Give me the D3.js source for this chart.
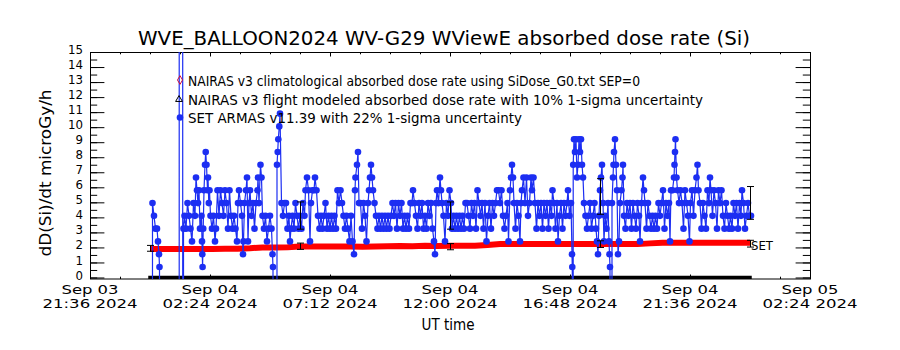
<!DOCTYPE html>
<html>
<head>
<meta charset="utf-8">
<script src="https://cdn.jsdelivr.net/npm/d3@7"></script>
<style>
  html, body { margin: 0; padding: 0; background: #fff; }
  svg { display: block; font-family: "DejaVu Sans", sans-serif; }
</style>
</head>
<body>
<svg id="chart" width="900" height="350"></svg>
<script>
// ---- text ----
const titleText = "WVE_BALLOON2024 WV-G29 WViewE absorbed dose rate (Si)";
const yLabelText = "dD(Si)/dt microGy/h";
const xLabelText = "UT time";
const legendLabels = [
  "NAIRAS v3 climatological absorbed dose rate using SiDose_G0.txt SEP=0",
  "NAIRAS v3 flight modeled absorbed dose rate with 10% 1-sigma uncertainty",
  "SET ARMAS v11.39 with 22% 1-sigma uncertainty"
];

// ---- axes ----
const xStart = "2024-09-03T21:36:00Z";
const xEnd = "2024-09-05T02:24:00Z";
const xMajorTicks = ["2024-09-03T21:36:00Z", "2024-09-04T02:24:00Z", "2024-09-04T07:12:00Z",
  "2024-09-04T12:00:00Z", "2024-09-04T16:48:00Z", "2024-09-04T21:36:00Z", "2024-09-05T02:24:00Z"];
const yTicks = [0, 1, 2, 3, 4, 5, 6, 7, 8, 9, 10, 11, 12, 13, 14, 15];
const flightStart = "2024-09-04T00:00:00Z";

// ---- NAIRAS climatological [hours after flightStart, microGy/h] ----
const nairasClim = [[0,1.90],[0.5,1.90],[1,1.90],[1.5,1.90],[2,1.90],[2.5,1.90],[3,1.91],[3.5,1.92],
  [4,1.95],[4.5,2.00],[5,2.00],[5.5,2.01],[6,2.06],[6.5,2.06],[7,2.06],[7.5,2.06],[8,2.06],[8.5,2.05],
  [9,2.06],[9.5,2.08],[10,2.10],[10.5,2.08],[11,2.11],[11.5,2.09],[12,2.11],[12.5,2.11],[13,2.11],
  [13.5,2.16],[14,2.22],[14.5,2.22],[15,2.22],[15.5,2.22],[16,2.22],[16.5,2.22],[17,2.22],[17.5,2.22],
  [18,2.22],[18.5,2.22],[19,2.22],[19.5,2.22],[20,2.27],[20.5,2.31],[21,2.31],[21.5,2.31],[22,2.31],
  [22.5,2.31],[23,2.31],[23.5,2.31],[24,2.31]];

// ---- NAIRAS flight modeled [hours, microGy/h] ----
const nairasFlight = [[0,0],[2,0],[4,0],[6,0],[8,0],[10,0],[12,0],[14,0],[16,0],[18,0],[20,0],[22,0],[24,0]];
const nairasErrHours = [0, 6, 12, 18, 24];
const nairasErrDose = [1.94, 2.08, 2.05, 2.22, 2.25];
const nairasErrFrac = 0.10;

// ---- SET ARMAS [minutes after flightStart, microGy/h]; -999 fill, 999 saturated ----
const setArmas = [[0,-999],[6,4.95],[9.6,4.1],[13.2,3.25],[16.8,3.25],[19.2,2.4],[21.6,1.55],[22.8,0.7],[24,-999],
[69.6,-999],[70.6,999],[78,999],[79,-999],[80.4,3.25],
[82.8,4.1],[86.4,3.25],[90,4.95],[93.6,4.1],[97.2,3.25],[100.8,2.4],[104.4,4.95],[108,4.1],[110.4,6.65],[112.8,5.8],[115.2,4.95],[117.6,5.8],[120,3.25],[123.6,4.1],[124.8,2.4],[125.5,1.55],[126.2,0.7],[127.7,3.25],[129.6,5.8],[132,7.5],[133.7,8.35],[135.6,7.5],[138,5.8],[139.2,6.65],[141.1,4.95],[142.8,5.8],[145.2,4.1],[148.8,3.25],[152.4,4.1],[156,2.4],[158.4,3.25],[162,5.8],[165.6,4.1],[169.2,5.8],[172.8,4.95],[176.4,4.1],[180,5.8],[183.6,4.95],[187.2,3.25],[190.8,5.8],[194.4,4.1],[198,3.25],[201.6,4.1],[205.2,3.25],[208.8,2.4],[211.2,4.95],[213.6,5.8],[217.2,4.95],[220.8,4.1],[223.2,1.55],[224.4,2.4],[226.8,4.95],[230.4,5.8],[232.8,6.65],[235.2,2.4],[237.6,4.95],[240,5.8],[243.6,4.1],[247.2,4.95],[250.8,3.25],[254.4,4.95],[258,5.8],[259.2,6.65],[261.6,4.95],[265.2,7.5],[267.6,6.65],[270,4.1],[273.6,3.25],[277.2,4.1],[280.8,2.4],[284.4,3.25],[288,4.1],[291.6,3.25],[294,1.55],[295.2,0.7],[297.1,-999],[302.4,-999],[304.8,7.5],[306.5,8.35],[307.9,9.2],[310.3,10.05],[312,10.9],[315.6,4.95],
[319.2,4.1],[322.8,4.95],[326.4,4.95],[330,3.25],[333.6,4.1],[336,2.4],[338.4,3.25],[342,4.1],[345.6,3.25],[349.2,4.95],[352.8,4.1],[356.4,3.25],[360,4.1],[363.6,3.25],[367.2,4.95],[370.8,4.1],[373.2,5.8],[376.8,6.65],[380.4,5.8],[384,2.4],[386.4,4.95],[390,5.8],[393.6,5.8],[396,6.65],[399.6,5.8],[403.2,4.1],[406.8,3.25],[410.4,4.1],[414,3.25],[417.6,4.1],[421.2,4.95],[424.8,3.25],[428.4,4.1],[432,3.25],[435.6,4.1],[439.2,3.25],[442.8,4.1],[446.4,3.25],[450,5.8],[453.6,4.95],[457.2,5.8],[460.8,4.95],[464.4,4.1],[468,3.25],[471.6,4.1],[475.2,3.25],[478.8,2.4],[482.4,4.1],[486,2.4],[489.6,1.55],[492,5.8],[493.2,6.65],[496.8,7.5],[499.2,8.35],[501.6,4.95],[505.2,4.95],[508.8,3.25],[512.4,4.95],[516,4.1],[519.6,2.4],[523.2,4.95],[525.6,5.8],[528,6.65],[530.4,7.5],[532.8,6.65],[535.2,5.8],[538.8,4.95],[542.4,4.1],[546,3.25],[549.6,4.1],[553.2,3.25],[556.8,4.1],[560.4,3.25],[564,4.1],[567.6,3.25],[571.2,4.1],[574.8,3.25],[578.4,4.1],[582,4.95],[585.6,4.1],[589.2,4.95],[592.8,3.25],[596.4,4.95],[600,4.1],[603.6,4.95],[607.2,3.25],[610.8,4.1],[614.4,3.25],[618,4.1],[621.6,3.25],[625.2,4.95],[628.8,4.95],[631.2,5.8],[634.8,4.95],[638.4,4.1],[642,3.25],[645.6,4.95],[649.2,4.1],[652.8,4.95],[656.4,3.25],[660,4.1],[663.6,3.25],[667.2,4.95],[670.8,4.1],[674.4,4.95],[678,3.25],[681.6,2.4],[684,1.55],[686.4,4.95],[688.8,5.8],[692.4,4.95],[696,6.65],[698.4,5.8],[700.8,4.95],[704.4,4.1],[708,2.4],[711.6,4.95],[715.2,4.1],[718.8,5.8],[722.4,4.95],[724.8,3.25],[728.4,4.1],[732,3.25],[735.6,4.1],[739.2,3.25],[742.8,4.1],[746.4,3.25],[750,4.1],[753.6,3.25],[757.2,4.95],[760.8,4.95],[764.4,4.1],[768,3.25],[771.6,4.95],[775.2,4.1],[778.8,4.95],[782.4,3.25],[786,5.8],[789.6,4.95],[793.2,4.1],[796.8,4.95],[800.4,3.25],[804,4.95],[807.6,2.4],[811.2,4.1],[814.8,4.95],[818.4,3.25],[822,4.95],[825.6,4.1],[829.2,4.95],[832.8,5.8],[836.4,5.8],[840,4.95],[843.6,5.8],[847.2,4.1],[850.8,3.25],[854.4,4.1],[858,4.95],[860.4,2.4],[864,5.8],[866.4,6.65],[868.8,7.5],[871.2,6.65],[873.6,4.95],[877.2,3.25],[880.8,4.95],[884.4,4.1],[888,2.4],[890.4,4.95],[892.8,5.8],[896.4,6.65],[900,4.95],[903.6,6.65],[907.2,4.1],[910.8,4.95],[914.4,6.65],[916.8,5.8],[920.4,6.65],[924,4.95],[927.6,3.25],[931.2,4.95],[934.8,4.1],[938.4,4.95],[942,3.25],[945.6,4.95],[949.2,4.1],[952.8,4.95],[956.4,3.25],[960,4.95],[963.6,4.1],[966,5.8],[969.6,4.95],[973.2,3.25],[976.8,4.95],[979.2,2.4],[982.8,4.1],[986.4,4.95],[990,3.25],[993.6,4.95],[997.2,4.1],[1000.8,4.95],[1003.2,5.8],[1006.8,4.1],[1010.4,4.95],[1012.8,1.55],[1013.5,0.7],[1014.2,-999],[1015.7,7.5],[1017.6,9.2],[1020,8.35],[1022.4,9.2],[1024.8,6.65],[1027.2,7.5],[1029.6,9.2],[1032,8.35],[1034.4,9.2],[1036.8,7.5],[1039.2,6.65],
[1041.6,4.95],[1045.2,4.1],[1048.8,3.25],[1052.4,4.1],[1056,4.95],[1059.6,3.25],[1063.2,4.1],[1066.8,4.95],[1070.4,3.25],[1072.8,2.4],[1075.2,1.55],[1077.6,4.1],[1080,5.8],[1082.4,6.65],[1084.8,7.5],[1087.2,4.95],[1089.6,2.4],[1092,4.1],[1095.6,3.25],[1099.2,4.95],[1101.6,2.4],[1102.8,1.55],[1104,0.7],[1105.2,-999],[1108.8,4.95],[1111.2,6.65],[1112.4,7.5],[1113.6,8.35],[1116,9.2],[1118.4,7.5],[1120.8,5.8],[1123.2,1.55],[1125.6,2.4],[1128,4.95],[1131.6,5.8],[1134,6.65],[1135.2,7.5],[1137.6,4.1],[1141.2,3.25],[1144.8,4.95],[1148.4,4.1],[1152,4.95],[1155.6,3.25],[1159.2,4.95],[1162.8,4.1],[1166.4,3.25],[1170,4.95],[1173.6,4.1],[1176,2.4],[1179.6,4.95],[1183.2,6.65],[1185.6,5.8],[1188,4.95],[1191.6,3.25],[1195.2,4.95],[1198.8,4.1],[1202.4,3.25],[1206,4.1],[1209.6,3.25],[1213.2,4.1],[1216.8,3.25],[1220.4,4.95],[1224,4.1],[1227.6,4.95],[1231.2,5.8],[1234.8,3.25],[1238.4,4.95],[1242,4.1],[1245.6,4.95],[1248,2.4],[1250.4,5.8],[1254,5.8],[1257.6,6.65],[1258.8,7.5],[1260,8.35],[1261.2,9.2],[1263.6,6.65],[1266,5.8],[1269.6,4.95],[1273.2,5.8],[1276.8,4.95],[1280.4,3.25],[1284,5.8],[1287.6,4.95],[1291.2,4.1],[1294.8,2.4],[1297.2,4.95],[1300.8,5.8],[1304.4,4.1],[1308,5.8],[1311.6,6.65],[1314,7.5],[1316.4,5.8],[1320,4.95],[1323.6,3.25],[1327.2,4.95],[1330.8,4.1],[1334.4,3.25],[1338,5.8],[1341.6,4.95],[1344,6.65],[1346.4,5.8],[1350,4.1],[1353.6,5.8],[1357.2,4.95],[1360.8,3.25],[1364.4,5.8],[1368,4.95],[1371.6,5.8],[1375.2,4.1],[1378.8,3.25],[1382.4,4.95],[1386,4.1],[1389.6,3.25],[1393.2,4.1],[1396.8,3.25],[1400.4,4.95],[1404,4.1],[1407.6,4.95],[1411.2,3.25],[1414.8,4.95],[1418.4,4.1],[1420.8,5.8],[1424.4,4.95],[1428,3.25],[1431.6,4.1],[1435.2,4.95],[1438.8,4.1],[1442.4,4.1]];
const setErrHours = [6, 12, 18, 24];
const setErrDose = [4.12, 4.12, 5.39, 4.96];
const setErrFrac = 0.22;

// ---- layout ----
const width = 900, height = 350;
const plotLeft = 90, plotRight = 810, plotTop = 52, plotBottom = 279;
const blue = "#1c2ef2", red = "#ff0000";

const svg = d3.select("#chart");
const t0 = new Date(flightStart).getTime();
const atMin = m => new Date(t0 + m * 60000);
const atHour = h => new Date(t0 + h * 3600000);

const x = d3.scaleUtc()
  .domain([new Date(xStart), new Date(xEnd)])
  .range([plotLeft, plotRight]);
const y = d3.scaleLinear()
  .domain([-0.1, 15])
  .range([plotBottom, plotTop]);

svg.append("defs").append("clipPath").attr("id", "clip")
  .append("rect")
  .attr("x", plotLeft).attr("y", plotTop)
  .attr("width", plotRight - plotLeft).attr("height", plotBottom - plotTop);

// ---- axes (IDL style: ticks inside, on all four sides) ----
const majorX = xMajorTicks.map(d => new Date(d));
const minorX = d3.range(0, 25).map(i => new Date(new Date(xStart).getTime() + i * 72 * 60000));
const minorY = d3.range(0, 15.01, 0.5);

function styleAxis(g) {
  g.select(".domain").remove();
  g.selectAll("line").attr("stroke", "#000");
}

svg.append("g").attr("transform", `translate(0,${plotBottom})`)
  .call(d3.axisBottom(x).tickValues(minorX).tickSize(-2.3).tickFormat(""))
  .call(styleAxis);
svg.append("g").attr("transform", `translate(0,${plotBottom})`)
  .call(d3.axisBottom(x).tickValues(majorX).tickSize(-4.5).tickFormat(""))
  .call(styleAxis);
svg.append("g").attr("transform", `translate(0,${plotTop})`)
  .call(d3.axisTop(x).tickValues(minorX).tickSize(-2.3).tickFormat(""))
  .call(styleAxis);
svg.append("g").attr("transform", `translate(0,${plotTop})`)
  .call(d3.axisTop(x).tickValues(majorX).tickSize(-4.5).tickFormat(""))
  .call(styleAxis);

svg.append("g").attr("transform", `translate(${plotLeft},0)`)
  .call(d3.axisLeft(y).tickValues(minorY).tickSize(-7.2).tickFormat(""))
  .call(styleAxis);
svg.append("g").attr("transform", `translate(${plotLeft},0)`)
  .call(d3.axisLeft(y).tickValues(yTicks).tickSize(-14.4).tickPadding(7).tickFormat(d3.format("d")))
  .call(styleAxis)
  .call(g => g.selectAll("text")
    .attr("font-size", 13)
    .attr("font-family", "DejaVu Sans")
    .attr("fill", "#000")
    .attr("dy", "0.12em")
    .attr("textLength", d => String(d).length * 7.5)
    .attr("lengthAdjust", "spacingAndGlyphs"));
svg.append("g").attr("transform", `translate(${plotRight},0)`)
  .call(d3.axisRight(y).tickValues(minorY).tickSize(-7.2).tickFormat(""))
  .call(styleAxis);
svg.append("g").attr("transform", `translate(${plotRight},0)`)
  .call(d3.axisRight(y).tickValues(yTicks).tickSize(-14.4).tickFormat(""))
  .call(styleAxis);

// x tick labels, two lines
const fmtDay = d3.utcFormat("%b %d");
const fmtTime = d3.utcFormat("%H:%M %Y");
const xLab = svg.append("g").attr("font-size", 13).attr("text-anchor", "middle");
xLab.selectAll("text.l1").data(majorX).join("text")
  .attr("class", "l1")
  .attr("x", d => x(d)).attr("y", 294)
  .attr("textLength", 57).attr("lengthAdjust", "spacingAndGlyphs")
  .text(d => fmtDay(d));
xLab.selectAll("text.l2").data(majorX).join("text")
  .attr("class", "l2")
  .attr("x", d => x(d)).attr("y", 308)
  .attr("textLength", 95).attr("lengthAdjust", "spacingAndGlyphs")
  .text(d => fmtTime(d));

// frame
svg.append("rect")
  .attr("x", plotLeft + 0.5).attr("y", plotTop + 0.5)
  .attr("width", plotRight - plotLeft).attr("height", plotBottom - plotTop - 0.5)
  .attr("fill", "none").attr("stroke", "#000");

// titles
svg.append("text")
  .attr("x", 138).attr("y", 45)
  .attr("font-size", 19)
  .attr("textLength", 612).attr("lengthAdjust", "spacingAndGlyphs")
  .text(titleText);
svg.append("text")
  .attr("x", 448).attr("y", 330)
  .attr("text-anchor", "middle").attr("font-size", 15)
  .attr("textLength", 53).attr("lengthAdjust", "spacingAndGlyphs")
  .text(xLabelText);
svg.append("text")
  .attr("transform", "translate(51,173) rotate(-90)")
  .attr("text-anchor", "middle").attr("font-size", 16)
  .attr("textLength", 167).attr("lengthAdjust", "spacingAndGlyphs")
  .text(yLabelText);

// ---- data ----
const plot = svg.append("g").attr("clip-path", "url(#clip)");

// NAIRAS climatological (red)
plot.append("path")
  .datum(nairasClim)
  .attr("d", d3.line().x(d => x(atHour(d[0]))).y(d => y(d[1])))
  .attr("fill", "none").attr("stroke", red).attr("stroke-width", 6);

// NAIRAS flight modeled (black)
plot.append("path")
  .datum(nairasFlight)
  .attr("d", d3.line().x(d => x(atHour(d[0]))).y(d => y(d[1])))
  .attr("fill", "none").attr("stroke", "#000").attr("stroke-width", 3.5)
  .attr("stroke-linecap", "square");

function errorBars(hours, dose, frac) {
  const g = svg.append("g").attr("stroke", "#000").attr("stroke-width", 1);
  hours.forEach((h, i) => {
    const cx = Math.round(x(atHour(h))) + 0.5;
    const lo = y(dose[i] * (1 - frac)), hi = y(dose[i] * (1 + frac));
    g.append("line").attr("x1", cx).attr("x2", cx).attr("y1", lo).attr("y2", hi);
    g.append("line").attr("x1", cx - 3.5).attr("x2", cx + 3.5).attr("y1", lo).attr("y2", lo);
    g.append("line").attr("x1", cx - 3.5).attr("x2", cx + 3.5).attr("y1", hi).attr("y2", hi);
  });
}
errorBars(nairasErrHours, nairasErrDose, nairasErrFrac);

// SET ARMAS (blue)
plot.append("path")
  .datum(setArmas)
  .attr("d", d3.line().x(d => x(atMin(d[0]))).y(d => y(d[1])))
  .attr("fill", "none").attr("stroke", blue).attr("stroke-width", 1.2);
plot.append("g").attr("fill", blue)
  .selectAll("circle")
  .data(setArmas.filter(d => d[1] > -1 && d[1] < 20))
  .join("circle")
  .attr("cx", d => x(atMin(d[0])))
  .attr("cy", d => y(d[1]))
  .attr("r", 3.3);

errorBars(setErrHours, setErrDose, setErrFrac);

svg.append("text")
  .attr("x", 751).attr("y", 250)
  .attr("font-size", 13)
  .attr("textLength", 22).attr("lengthAdjust", "spacingAndGlyphs")
  .text("SET");

// ---- legend ----
const legendX = 188;
const legendY = [85.5, 104.5, 123];
const legendLen = [452, 515, 334];
const leg = svg.append("g");
leg.append("path")
  .attr("transform", `translate(180,${legendY[0] - 5.5})`)
  .attr("d", d3.symbol(d3.symbolDiamond, 22)())
  .attr("fill", "none").attr("stroke", "#d0103a");
leg.append("path")
  .attr("transform", `translate(179,${legendY[1] - 5})`)
  .attr("d", d3.symbol(d3.symbolTriangle, 20)())
  .attr("fill", "none").attr("stroke", "#000");
leg.append("circle")
  .attr("cx", 180).attr("cy", legendY[2] - 5.5).attr("r", 3.3)
  .attr("fill", blue);
leg.selectAll("text").data(legendLabels).join("text")
  .attr("x", legendX).attr("y", (d, i) => legendY[i])
  .attr("font-size", 14)
  .attr("textLength", (d, i) => legendLen[i]).attr("lengthAdjust", "spacingAndGlyphs")
  .text(d => d);
</script>
</body>
</html>
